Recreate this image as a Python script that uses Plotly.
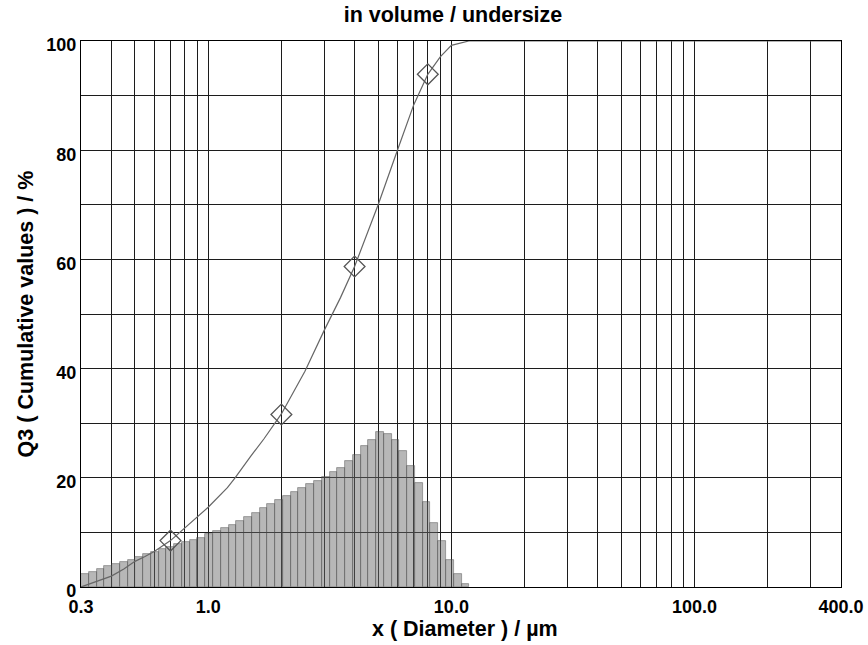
import math
import plotly.graph_objects as go

# ---------------- data ----------------
title_text = "in volume / undersize"
x_title = "x ( Diameter ) / µm"
y_title = "Q3 ( Cumulative values ) / %"

x_min, x_max = 0.3, 400.0

# size classes of the histogram (equal width on the log scale)
bin_lower = 0.3
bin_upper = 11.85
n_bins = 50

# density bars
hist_values = [
    2.3, 2.8, 3.3, 3.8, 4.3, 4.6, 5.0, 5.5, 6.0, 6.4,
    6.9, 7.3, 7.9, 8.3, 8.7, 9.0, 9.7, 10.2, 10.8, 11.4,
    12.1, 12.8, 13.6, 14.4, 15.2, 15.9, 16.7, 17.4, 18.1, 18.8,
    19.4, 20.2, 21.0, 21.8, 23.0, 24.2, 25.8, 27.0, 28.3, 28.0,
    27.0, 25.0, 22.2, 19.1, 15.5, 11.8, 8.4, 4.9, 2.3, 0.6,
]

# cumulative undersize curve Q3
cum_x = [0.3, 0.35, 0.4, 0.45, 0.5, 0.55, 0.6, 0.7, 0.8, 0.9, 1.0, 1.2, 1.29,
         1.5, 1.7, 2.0, 2.5, 3.0, 3.5, 4.0, 5.0, 6.0, 7.0, 8.0, 9.0, 10.0,
         11.8, 400.0]
cum_y = [0.0, 1.0, 2.0, 3.3, 4.7, 5.6, 6.5, 8.5, 10.8, 12.8, 14.6, 18.2, 20.0,
         24.0, 27.2, 31.7, 39.5, 47.0, 53.0, 58.7, 70.0, 80.0, 88.3, 93.9,
         97.1, 99.2, 100.0, 100.0]

# highlighted points on the curve
marker_x = [0.7, 2.0, 4.0, 8.0]
marker_y = [8.5, 31.6, 58.7, 93.9]

x_tick_vals = [0.3, 1.0, 10.0, 100.0, 400.0]
x_tick_text = ["0.3", "1.0", "10.0", "100.0", "400.0"]
x_minor_grid = [0.4, 0.5, 0.6, 0.7, 0.8, 0.9,
                2, 3, 4, 5, 6, 7, 8, 9,
                20, 30, 40, 50, 60, 70, 80, 90,
                200, 300]
y_tick_vals = [0, 20, 40, 60, 80, 100]
y_minor_step = 10

# ---------------- figure ----------------
W, H = 868, 645
ML, MR, MT, MB = 81, 27, 41, 58

ratio = (bin_upper / bin_lower) ** (1.0 / n_bins)
edges = [bin_lower * ratio ** i for i in range(n_bins + 1)]
bar_left = edges[:-1]
bar_width = [edges[i + 1] - edges[i] for i in range(n_bins)]

FONT = "Liberation Sans, Arial, Helvetica, sans-serif"
GRID = "#1c1c1c"

fig = go.Figure()
fig.add_trace(go.Bar(
    x=bar_left, y=hist_values, width=bar_width, offset=0,
    marker=dict(color="rgba(105,105,105,0.48)",
                line=dict(color="rgba(70,70,70,0.55)", width=0.8)),
    showlegend=False, hoverinfo="skip",
))
fig.add_trace(go.Scatter(
    x=cum_x, y=cum_y, mode="lines",
    line=dict(color="#666666", width=1.2),
    showlegend=False, hoverinfo="skip",
))
fig.add_trace(go.Scatter(
    x=marker_x, y=marker_y, mode="markers",
    marker=dict(symbol="diamond-open", size=16, color="#555555",
                line=dict(width=1.3, color="#555555")),
    showlegend=False, hoverinfo="skip",
))

plot_w = W - ML - MR
plot_h = H - MT - MB

fig.update_layout(
    width=W, height=H, autosize=False,
    margin=dict(l=ML, r=MR, t=MT, b=MB, autoexpand=False),
    paper_bgcolor="white", plot_bgcolor="white",
    font=dict(family=FONT, color="black", weight="bold"),
    title=dict(text=title_text, x=453 / W, xref="container", xanchor="center",
               y=1 - 14 / H, yref="container", yanchor="middle",
               font=dict(family=FONT, size=21.5, weight="bold", color="black")),
    bargap=0,
    annotations=[dict(
        text=x_title, xref="paper", yref="paper",
        x=(465 - ML) / plot_w, y=-(629 - (H - MB)) / plot_h,
        xanchor="center", yanchor="middle", showarrow=False,
        font=dict(family=FONT, size=21.5, weight="bold", color="black"),
    )],
)
fig.update_xaxes(
    type="log", range=[math.log10(x_min), math.log10(x_max)],
    automargin=False,
    tickmode="array", tickvals=x_tick_vals, ticktext=x_tick_text,
    ticks="", tickfont=dict(family=FONT, size=18, weight="bold"),
    ticklabelstandoff=3,
    showgrid=True, gridcolor=GRID, gridwidth=1.3,
    minor=dict(tickmode="array", tickvals=x_minor_grid, showgrid=True,
               gridcolor=GRID, gridwidth=1.3, ticks=""),
    showline=True, linecolor="black", linewidth=1.3, mirror=True,
    zeroline=False,
)
fig.update_yaxes(
    range=[0, 100], automargin=False,
    tickmode="array", tickvals=y_tick_vals,
    ticks="", tickfont=dict(family=FONT, size=18, weight="bold"),
    ticklabelshift=4,
    showgrid=True, gridcolor=GRID, gridwidth=1.3,
    minor=dict(dtick=y_minor_step, showgrid=True, gridcolor=GRID,
               gridwidth=1.3, ticks=""),
    showline=True, linecolor="black", linewidth=1.3, mirror=True,
    zeroline=False,
    title=dict(text=y_title, font=dict(family=FONT, size=21.5, weight="bold"),
               standoff=6),
)

fig.write_html(
    "out.html",
    config={"displayModeBar": False, "responsive": False},
    post_script=("document.documentElement.style.overflow='hidden';"
                 "document.body.style.overflow='hidden';"
                 "document.body.style.margin='0px';"),
)
